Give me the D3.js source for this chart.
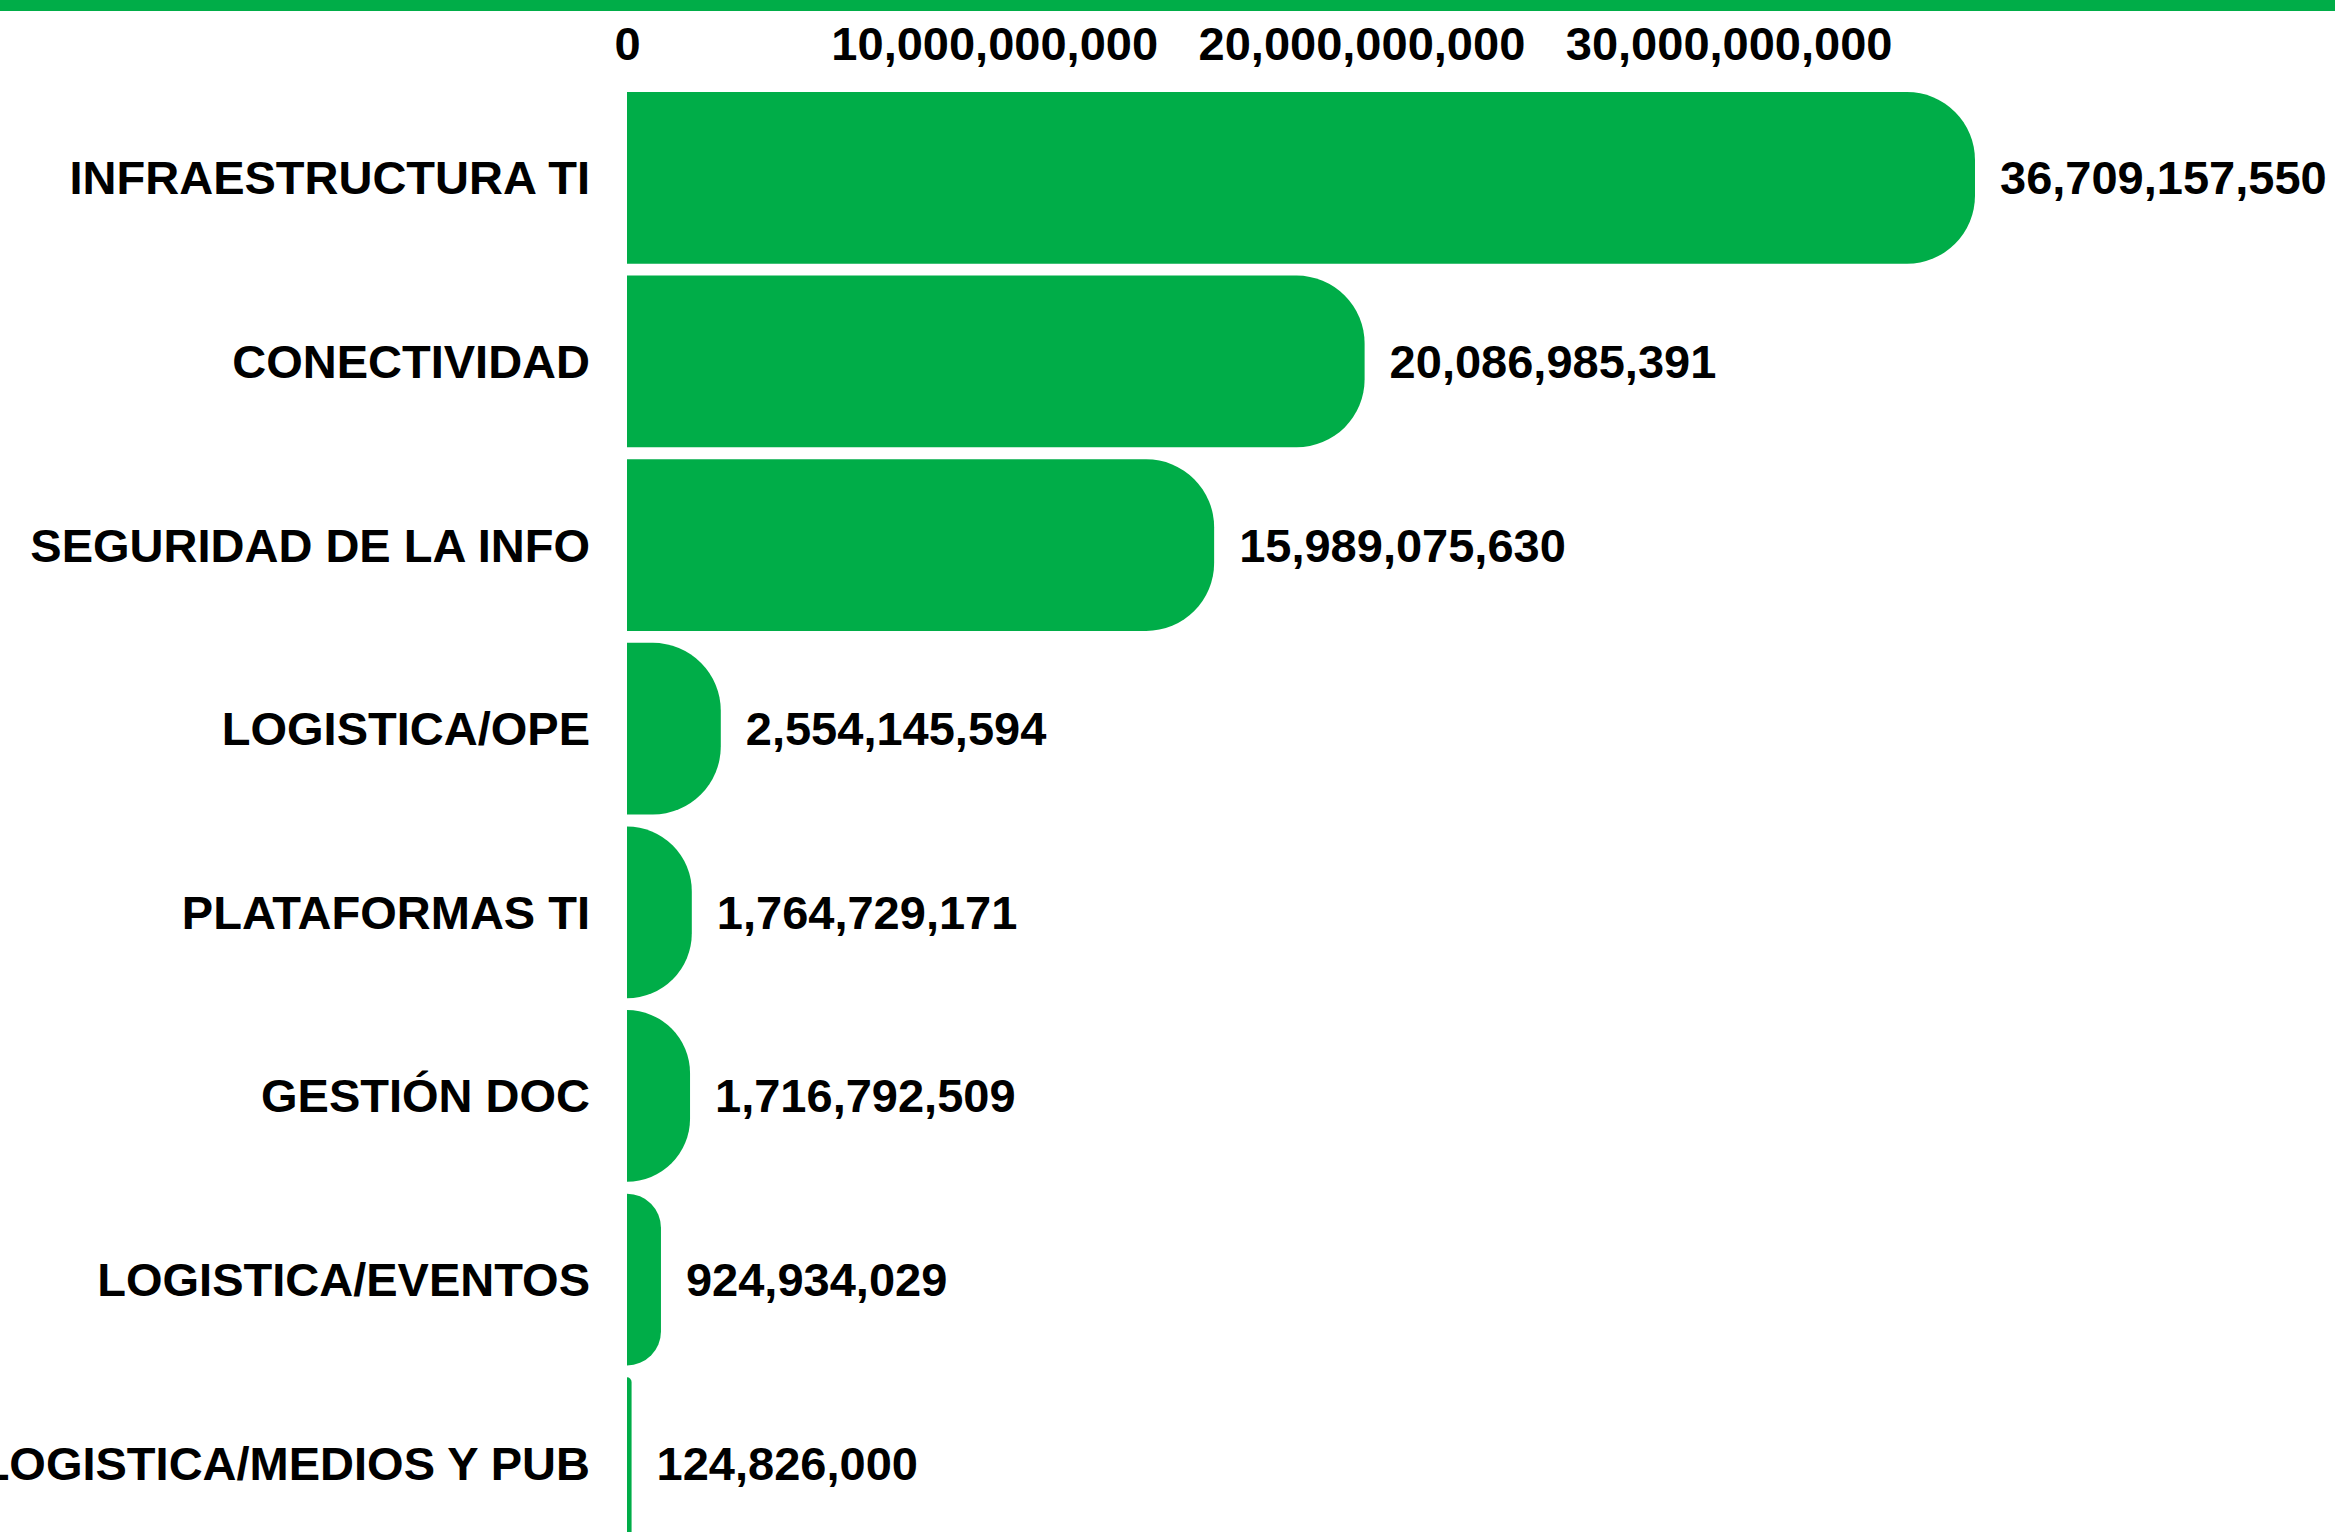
<!DOCTYPE html>
<html>
<head>
<meta charset="utf-8">
<script src="https://cdn.jsdelivr.net/npm/d3@7"></script>
<style>
html, body { margin: 0; padding: 0; background: #fff; overflow: hidden; }
svg { display: block; }
text { font-family: "Liberation Sans", Arial, Helvetica, sans-serif; font-weight: bold; fill: #000; }
</style>
</head>
<body>
<script>
const categories = [
  "INFRAESTRUCTURA TI",
  "CONECTIVIDAD",
  "SEGURIDAD DE LA INFO",
  "LOGISTICA/OPE",
  "PLATAFORMAS TI",
  "GESTIÓN DOC",
  "LOGISTICA/EVENTOS",
  "LOGISTICA/MEDIOS Y PUB"
];
const values = [
  36709157550,
  20086985391,
  15989075630,
  2554145594,
  1764729171,
  1716792509,
  924934029,
  124826000
];
const tickValues = [0, 10000000000, 20000000000, 30000000000];

const W = 2335, H = 1532;
const green = "#00ad48";
const fmt = d3.format(",");

const svg = d3.select("body").append("svg")
  .attr("width", W).attr("height", H);

// top band
svg.append("rect").attr("x", 0).attr("y", 0).attr("width", W).attr("height", 11).attr("fill", green);

const x = d3.scaleLinear().domain([0, d3.max(values)]).range([627, 1975]);
const y = d3.scaleBand().domain(categories).range([92, 1549]).paddingInner(0.065).paddingOuter(0);

// top axis
const axis = svg.append("g").attr("transform", "translate(0,44)")
  .call(d3.axisTop(x).tickValues(tickValues).tickFormat(fmt).tickSize(0).tickPadding(0));
axis.select(".domain").remove();
axis.selectAll("text")
  .attr("font-size", 47)
  .attr("dy", "0.35em")
  .style("font-family", '"Liberation Sans", Arial, Helvetica, sans-serif')
  .style("font-weight", "bold")
  .attr("fill", "#000");

function barPath(d, i) {
  const x0 = x(0), x1 = x(values[i]);
  const y0 = y(d), h = y.bandwidth();
  const w = x1 - x0;
  const r = Math.min(68, w, h / 2);
  return `M${x0},${y0}H${x1 - r}A${r},${r} 0 0 1 ${x1},${y0 + r}V${y0 + h - r}A${r},${r} 0 0 1 ${x1 - r},${y0 + h}H${x0}Z`;
}

svg.append("g").selectAll("path").data(categories).join("path")
  .attr("d", barPath)
  .attr("fill", green);

// category labels
svg.append("g").selectAll("text").data(categories).join("text")
  .attr("x", 590)
  .attr("y", d => y(d) + y.bandwidth() / 2)
  .attr("dy", "0.35em")
  .attr("text-anchor", "end")
  .attr("font-size", 47)
  .text(d => d);

// value labels
svg.append("g").selectAll("text").data(categories).join("text")
  .attr("x", (d, i) => x(values[i]) + 25)
  .attr("y", d => y(d) + y.bandwidth() / 2)
  .attr("dy", "0.35em")
  .attr("text-anchor", "start")
  .attr("font-size", 47)
  .text((d, i) => fmt(values[i]));
</script>
</body>
</html>
